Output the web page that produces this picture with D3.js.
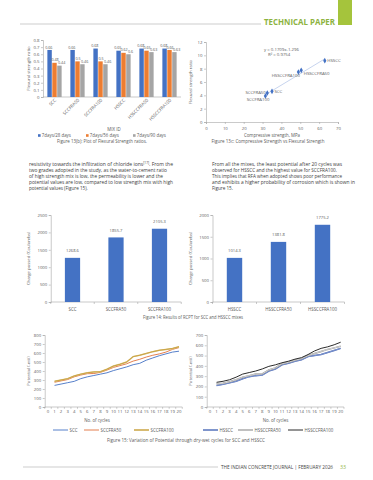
<!DOCTYPE html>
<html><head><meta charset="utf-8">
<script src="https://cdn.jsdelivr.net/npm/d3@7"></script>
<style>html,body{margin:0;padding:0;background:#fff;}svg{display:block;font-family:"Open Sans",sans-serif;}</style>
</head><body><svg id="c" width="373" height="480"></svg>
<script>
// ---------- DATA ----------
const mixIds = ["SCC","SCCFRA50","SCCFRA100","HSSCC","HSSCCFRA50","HSSCCFRA100"];
const ratioSeries = ["7days/28 days","7days/56 days","7days/90 days"];
const ratio28 = [0.66,0.66,0.68,0.65,0.68,0.68];
const ratio56 = [0.48,0.5,0.5,0.62,0.65,0.66];
const ratio90 = [0.44,0.46,0.46,0.6,0.63,0.63];
const ratioTicks = [0,0.1,0.2,0.3,0.4,0.5,0.6,0.7,0.8];

const scatterNames = ["SCC","SCCFRA50","SCCFRA100","HSSCC","HSSCCFRA50","HSSCCFRA100"];
const compStrength = [35,32.5,31.5,63,50.5,49];
const flexStrength = [4.6,4.35,3.9,9.2,7.75,7.5];
const trendSlope = 0.1709, trendIntercept = -1.296;
const compTicks = [0,10,20,30,40,50,60,70];
const flexTicks = [0,2,4,6,8,10,12];

const sccMixes = ["SCC","SCCFRA50","SCCFRA100"];
const sccCharge = [1268.6,1855.7,2105.3];
const sccChargeTicks = [0,500,1000,1500,2000,2500];
const hsMixes = ["HSSCC","HSSCCFRA50","HSSCCFRA100"];
const hsCharge = [1014.3,1381.8,1775.2];
const hsChargeTicks = [0,500,1000,1500,2000];

const cycleTicks = d3.range(0,21);
const cycles = d3.range(1,21);
const potSCC      = [240,255,270,285,315,335,350,365,380,405,425,445,470,485,520,545,570,590,610,620];
const potSCCFRA50 = [275,290,305,335,355,370,372,385,410,440,460,480,510,530,555,575,590,610,640,660];
const potSCCFRA100= [285,300,315,345,365,380,390,392,420,455,475,500,560,575,595,615,630,640,650,670];
const potSccTicks = [0,100,200,300,400,500,600,700,800];
const potHS       = [210,220,235,250,275,295,305,310,350,370,410,425,445,460,490,500,510,530,550,570];
const potHSFRA50  = [225,230,245,265,290,305,320,322,360,380,420,435,455,470,500,520,540,560,575,590];
const potHSFRA100 = [240,250,265,290,320,335,350,370,395,410,430,445,465,480,510,545,570,585,605,630];
const potHsTicks = [0,100,200,300,400,500,600,700];

// ---------- STYLE ----------
const svg = d3.select("#c");
const AX = "#a6a6a6", TXT = "#595959", BODY = "#3c3c3c", GREEN = "#8db33f";
const blue="#4472c4", orange="#ed7d31", gray="#a5a5a5";
const FS = 4.3;

function txt(x,y,s,o={}){
  const t = svg.append("text").attr("x",x).attr("y",y).text(s)
    .attr("font-size",o.fs||FS).attr("fill",o.fill||TXT)
    .attr("text-anchor",o.anchor||"start");
  if(o.len) t.attr("textLength",o.len).attr("lengthAdjust","spacingAndGlyphs");
  if(o.weight) t.attr("font-weight",o.weight);
  if(o.rot!=null) t.attr("transform",`rotate(${o.rot},${x},${y})`);
  return t;
}
function yAxis(scale,x,ticks,fmt){
  const g = svg.append("g").attr("transform",`translate(${x},0)`)
    .call(d3.axisLeft(scale).tickValues(ticks).tickSize(2).tickPadding(1.5).tickFormat(fmt||(d=>d)));
  g.select(".domain").attr("stroke",AX).attr("stroke-width",0.6);
  g.selectAll(".tick line").attr("stroke",AX).attr("stroke-width",0.6);
  g.selectAll("text").attr("font-size",FS).attr("fill",TXT).attr("font-family","Open Sans");
  return g;
}
function hline(x1,x2,y){svg.append("line").attr("x1",x1).attr("x2",x2).attr("y1",y).attr("y2",y).attr("stroke",AX).attr("stroke-width",0.6);}
function vtick(x,y,len){svg.append("line").attr("x1",x).attr("x2",x).attr("y1",y).attr("y2",y+len).attr("stroke",AX).attr("stroke-width",0.6);}

// ---------- HEADER ----------
svg.append("line").attr("x1",20).attr("x2",261).attr("y1",24).attr("y2",24).attr("stroke","#b8b8b8").attr("stroke-width",0.7);
txt(264,25.3,"TECHNICAL PAPER",{fs:8,fill:GREEN,weight:"bold",len:71,});
svg.append("rect").attr("x",338).attr("y",0).attr("width",14).attr("height",25).attr("fill","#a5c43c");

// ---------- FIG 13b ----------
{
  const x0 = d3.scaleBand().domain(mixIds).range([43,181]).paddingInner(0.38).paddingOuter(0.19);
  const x1 = d3.scaleBand().domain(ratioSeries).range([0,x0.bandwidth()]).paddingInner(0.1);
  const y = d3.scaleLinear().domain([0,0.8]).range([97,40]);
  const series = [ratio28,ratio56,ratio90], cols=[blue,orange,gray];
  yAxis(y,43,ratioTicks,d=>d===0?"0":d.toFixed(1));
  hline(43,181,97);
  const shift=[-0.8,0.6,2.2];
  mixIds.forEach((m,i)=>{
    series.forEach((s,j)=>{
      const bx = x0(m)+x1(ratioSeries[j]);
      svg.append("rect").attr("x",bx).attr("y",y(s[i])).attr("width",x1.bandwidth()).attr("height",97-y(s[i])).attr("fill",cols[j]);
      txt(bx+x1.bandwidth()/2+shift[j], y(s[i])-1.4, String(s[i]),{anchor:"middle",fs:3.7});
    });
    const cx = x0(m)+x0.bandwidth()/2;
    txt(cx+2,100.5,m,{anchor:"end",rot:-45,fs:4.4});
  });
  txt(30,68.5,"Flexural strength ratio",{anchor:"middle",rot:-90,fs:4.3});
  txt(114,130.5,"MIX ID",{anchor:"middle",fs:4.4});
  const lx=[38,86,133];
  ratioSeries.forEach((s,j)=>{
    svg.append("rect").attr("x",lx[j]).attr("y",134.2).attr("width",2.6).attr("height",2.6).attr("fill",cols[j]);
    txt(lx[j]+3.8,137,s,{fs:4.4});
  });
  txt(102,142.7,"Figure 13(b): Plot of Flexural Strength ratios.",{anchor:"middle",fs:4.5,len:90});
}

// ---------- FIG 13c ----------
{
  const x = d3.scaleLinear().domain([0,70]).range([206,338]);
  const y = d3.scaleLinear().domain([0,12]).range([122,42]);
  yAxis(y,206,flexTicks);
  const g = svg.append("g").attr("transform","translate(0,122)")
    .call(d3.axisBottom(x).tickValues(compTicks).tickSize(2).tickPadding(2.5));
  g.select(".domain").attr("stroke",AX).attr("stroke-width",0.6);
  g.selectAll(".tick line").attr("stroke",AX).attr("stroke-width",0.6);
  g.selectAll("text").attr("font-size",FS).attr("fill",TXT).attr("font-family","Open Sans");
  const xmin=d3.min(compStrength), xmax=d3.max(compStrength);
  svg.append("line").attr("x1",x(xmin)).attr("y1",y(trendSlope*xmin+trendIntercept))
    .attr("x2",x(xmax)).attr("y2",y(trendSlope*xmax+trendIntercept)).attr("stroke","#8fa9dc").attr("stroke-width",0.5);
  const sym = d3.symbol().type(d3.symbolDiamond).size(9);
  const lab = [{dx:2.5,dy:1.5,a:"start"},{dx:-1.5,dy:0.5,a:"end"},{dx:4,dy:4.5,a:"end"},{dx:2.5,dy:1.5,a:"start"},{dx:2.5,dy:5,a:"start"},{dx:1.5,dy:4.5,a:"end"}];
  scatterNames.forEach((n,i)=>{
    svg.append("path").attr("d",sym).attr("transform",`translate(${x(compStrength[i])},${y(flexStrength[i])})`).attr("fill",blue);
    txt(x(compStrength[i])+lab[i].dx, y(flexStrength[i])+lab[i].dy, n,{anchor:lab[i].a,fs:4.3});
  });
  txt(264,50.5,"y = 0.1709x-1.296",{fs:4.3});
  txt(268,56,"R² = 0.9754",{fs:4.3});
  txt(192,82,"Flexural strength ratio",{anchor:"middle",rot:-90,fs:4.3});
  txt(272,137,"Compressive strength, MPa",{anchor:"middle",fs:4.4});
  txt(268,142.7,"Figure 13c: Compressive Strength vs Flexural Strength",{anchor:"middle",fs:4.5,len:113});
}

// ---------- PARAGRAPHS ----------
{
  const L = ["resistivity towards the infiltration of chloride ions",
    "two grades adopted in the study, as the water-to-cement ratio",
    "of high strength mix is low, the permeability is lower and the",
    "potential values are low, compared to low strength mix with high",
    "potential values (Figure 15)."];
  const R = ["From all the mixes, the least potential after 20 cycles was",
    "observed for HSSCC and the highest value for SCCFRA100.",
    "This implies that RFA when adopted shows poor performance",
    "and exhibits a higher probability of corrosion which is shown in",
    "Figure 15."];
  const ys=[165.5,171.7,177.9,184.1,190.3];
  const lw=[144,138,134,144,null], rw=[130,125,130,143,null];
  L.forEach((s,i)=>{
    if(i===0){
      const t = svg.append("text").attr("x",29).attr("y",ys[i]).attr("font-size",4.6).attr("fill",BODY)
        .attr("textLength",144).attr("lengthAdjust","spacingAndGlyphs");
      t.append("tspan").text(s);
      t.append("tspan").text("[17]").attr("font-size",3).attr("dy",-1.6);
      t.append("tspan").text(". From the").attr("dy",1.6);
    } else txt(29,ys[i],s,{fs:4.6,fill:BODY,len:lw[i]});
  });
  R.forEach((s,i)=>txt(212,ys[i],s,{fs:4.6,fill:BODY,len:rw[i]}));
}

// ---------- FIG 14 ----------
function rcpt(names,vals,ticks,ymax,x0,x1,ax){
  const x = d3.scaleBand().domain(names).range([x0,x1]).paddingInner(0.65).paddingOuter(0.325);
  const y = d3.scaleLinear().domain([0,ymax]).range([302,215]);
  yAxis(y,x0,ticks);
  hline(x0,x1,302);
  names.forEach((n,i)=>{
    if(i>0) vtick(x(n)-x.step()*x.paddingInner()/2,302,2);
    svg.append("rect").attr("x",x(n)).attr("y",y(vals[i])).attr("width",x.bandwidth()).attr("height",302-y(vals[i])).attr("fill",blue);
    txt(x(n)+x.bandwidth()/2,y(vals[i])-5.5,vals[i].toFixed(1),{anchor:"middle",fs:4.1});
    txt(x(n)+x.bandwidth()/2,310.5,n,{anchor:"middle",fs:4.4});
  });
  vtick(x0,302,2); vtick(x1,302,2);
  txt(ax,258.5,"Charge passed (Coulombs)",{anchor:"middle",rot:-90,fs:4.3});
}
rcpt(sccMixes,sccCharge,sccChargeTicks,2500,50.75,181.25,29.5);
rcpt(hsMixes,hsCharge,hsChargeTicks,2000,212.5,344.5,192);
txt(193,318.5,"Figure 14: Results of RCPT for SCC and HSSCC mixes",{anchor:"middle",fs:4.5,len:100});

// ---------- FIG 15 ----------
function potChart(seriesArr,names,cols,ticks,ymax,xa,xb,ax,titleX,legX){
  const x = d3.scaleLinear().domain([0,20]).range([xa,xb]);
  const y = d3.scaleLinear().domain([0,ymax]).range([407,335]);
  const left = x(-0.5), right = x(20.5);
  yAxis(y,left,ticks);
  hline(left,right,407);
  cycleTicks.forEach(c=>{ vtick(x(c-0.5),407,1.8); txt(x(c),412.5,String(c),{anchor:"middle",fs:4.3}); });
  vtick(right,407,1.8);
  const line = d3.line().x((d,i)=>x(cycles[i])).y(d=>y(d));
  seriesArr.forEach((s,j)=>{
    if(cols[j].outline) svg.append("path").attr("d",line(s)).attr("fill","none").attr("stroke",cols[j].outline).attr("stroke-width",1.5);
    svg.append("path").attr("d",line(s)).attr("fill","none").attr("stroke",cols[j].c).attr("stroke-width",cols[j].w||0.9);
  });
  txt(ax,371,"Potential (-mV)",{anchor:"middle",rot:-90,fs:4.3});
  txt(titleX,422,"No. of cycles",{anchor:"middle",fs:4.4});
  names.forEach((n,j)=>{
    const lx = legX[j];
    if(cols[j].outline) svg.append("line").attr("x1",lx).attr("x2",lx+15).attr("y1",430).attr("y2",430).attr("stroke",cols[j].outline).attr("stroke-width",1.5);
    svg.append("line").attr("x1",lx).attr("x2",lx+15).attr("y1",430).attr("y2",430).attr("stroke",cols[j].c).attr("stroke-width",cols[j].w||0.9);
    txt(lx+16.5,431.6,n,{fs:4.4});
  });
}
potChart([potSCC,potSCCFRA50,potSCCFRA100],["SCC","SCCFRA50","SCCFRA100"],
  [{c:blue},{c:"#e0703a"},{c:"#c9a13e",outline:"#d8bf7a"}],potSccTicks,800,48,179,30,97,[53,84,134]);
potChart([potHS,potHSFRA50,potHSFRA100],["HSSCC","HSSCCFRA50","HSSCCFRA100"],
  [{c:"#7f97d3",outline:"#5670b5"},{c:"#d9d9d9",outline:"#8f8f8f"},{c:"#2b2b2b",w:1}],potHsTicks,700,210,340.7,192,275.5,[203,238,288]);
txt(186,441.5,"Figure 15: Variation of Potential through dry-wet cycles for SCC and HSSCC",{anchor:"middle",fs:4.5,len:158});

// ---------- FOOTER ----------
svg.append("line").attr("x1",23).attr("x2",218).attr("y1",467).attr("y2",467).attr("stroke","#b8b8b8").attr("stroke-width",0.7);
txt(221,469,"THE INDIAN CONCRETE JOURNAL | FEBRUARY 2026",{fs:4.9,fill:"#444",len:112});
txt(340,469.2,"33",{fs:5.5,fill:GREEN,len:6});
</script></body></html>
